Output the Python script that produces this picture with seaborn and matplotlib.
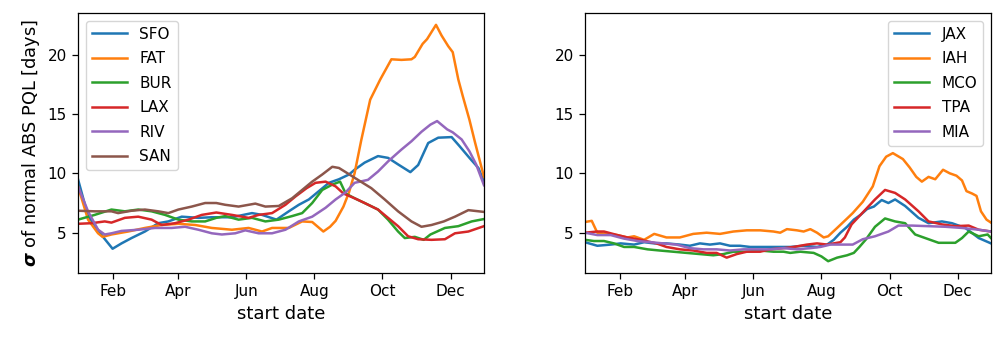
import numpy as np
import pandas as pd
import matplotlib
matplotlib.use("Agg")
import matplotlib.pyplot as plt
import matplotlib.dates as mdates
import seaborn as sns

# ---- data: day offset from 1 Jan, sigma of normal ABS PQL [days] ----
sfo_days = [0, 9, 22, 31, 39, 48, 60, 72, 81, 93, 108, 120, 138, 156, 165, 178, 189, 198, 207, 216,
            225, 234, 243, 248, 257, 269, 278, 287, 298, 305, 314, 323, 335, 342, 351, 359, 364]
sfo_vals = [9.5, 6.4, 4.7, 3.65, 4.1, 4.55, 5.1, 5.8, 5.95, 6.35, 6.25, 6.3, 6.3, 6.65, 6.5, 6.1, 6.8, 7.35, 7.8, 8.5,
            9.2, 9.5, 9.9, 10.3, 10.9, 11.45, 11.3, 10.75, 10.1, 10.7, 12.55, 13.0, 13.05, 12.3, 11.3, 10.45, 9.3]

fat_days = [0, 9, 18, 22, 30, 45, 60, 75, 90, 105, 120, 138, 153, 165, 174, 189, 201, 210, 215, 220, 226,
            231, 238, 243, 248, 254, 262, 271, 281, 290, 299, 302, 309, 313, 321, 326, 332, 336, 341, 345,
            351, 356, 364]
fat_vals = [8.9, 6.1, 4.95, 4.65, 4.85, 5.1, 5.4, 5.65, 5.75, 5.65, 5.4, 5.25, 5.4, 5.1, 5.4, 5.4, 5.95, 5.9, 5.5, 5.1, 5.5,
            6.0, 7.2, 8.4, 10.0, 12.8, 16.2, 17.9, 19.6, 19.55, 19.6, 19.8, 20.9, 21.3, 22.5, 21.6, 20.7, 20.2, 17.9, 16.5,
            14.5, 12.6, 9.7]

bur_days = [0, 15, 30, 42, 54, 66, 78, 90, 102, 114, 124, 132, 144, 156, 168, 180, 192, 201, 210, 219,
            228, 235, 240, 248, 257, 269, 278, 287, 293, 302, 310, 316, 329, 341, 353, 364]
bur_vals = [6.1, 6.5, 6.95, 6.8, 6.95, 6.8, 6.5, 6.1, 5.95, 5.95, 6.25, 6.4, 6.1, 6.25, 5.95, 6.1, 6.4, 6.65, 7.5, 8.6,
            9.05, 9.3, 8.3, 7.9, 7.5, 6.95, 6.1, 5.1, 4.55, 4.65, 4.4, 4.85, 5.4, 5.55, 5.95, 6.15]

lax_days = [0, 12, 24, 30, 42, 54, 66, 75, 87, 99, 111, 124, 138, 153, 162, 174, 186, 195, 205, 213,
            222, 231, 238, 248, 257, 269, 278, 287, 296, 305, 317, 329, 338, 350, 364]
lax_vals = [5.75, 5.8, 5.95, 5.85, 6.25, 6.35, 6.1, 5.65, 5.8, 6.1, 6.5, 6.7, 6.5, 6.25, 6.5, 6.65, 7.35, 8.05, 8.75, 9.2,
            9.3, 8.9, 8.3, 7.9, 7.5, 6.95, 6.25, 5.55, 4.7, 4.45, 4.4, 4.45, 4.95, 5.1, 5.55]

riv_days = [0, 9, 18, 24, 30, 39, 54, 69, 84, 96, 108, 120, 129, 141, 150, 162, 174, 186, 198, 210,
            222, 231, 240, 248, 260, 269, 278, 290, 299, 308, 316, 322, 331, 336, 344, 351, 357, 364]
riv_vals = [8.9, 6.8, 5.25, 4.85, 4.95, 5.15, 5.25, 5.4, 5.4, 5.5, 5.25, 4.95, 4.85, 4.95, 5.2, 4.95, 4.95, 5.25, 5.95, 6.35,
            7.1, 7.8, 8.4, 9.2, 9.45, 10.15, 11.0, 12.0, 12.7, 13.5, 14.1, 14.4, 13.7, 13.45, 12.85, 11.85, 10.75, 9.0]

san_days = [0, 15, 30, 36, 48, 60, 72, 81, 90, 102, 114, 124, 132, 144, 159, 168, 180, 192, 201, 210,
            219, 228, 234, 240, 251, 263, 275, 287, 299, 308, 317, 328, 338, 350, 364]
san_vals = [6.85, 6.8, 6.8, 6.65, 6.85, 6.95, 6.8, 6.65, 6.95, 7.2, 7.5, 7.5, 7.35, 7.2, 7.45, 7.2, 7.25, 7.9, 8.6, 9.3,
            9.9, 10.55, 10.45, 10.1, 9.45, 8.75, 7.8, 6.8, 5.95, 5.5, 5.65, 5.95, 6.35, 6.9, 6.75]

jax_days = [0, 11, 23, 32, 44, 53, 62, 73, 85, 94, 103, 112, 121, 130, 139, 148, 160, 172, 184, 196,
            208, 217, 223, 229, 235, 241, 247, 253, 259, 266, 272, 278, 287, 299, 308, 320, 329, 341, 353, 364]
jax_vals = [4.2, 3.9, 4.0, 4.1, 4.0, 4.2, 4.1, 4.1, 4.0, 3.9, 4.1, 4.0, 4.1, 3.9, 3.9, 3.8, 3.8, 3.8, 3.8, 3.9,
            3.8, 4.0, 4.4, 5.0, 5.5, 6.1, 6.5, 7.0, 7.2, 7.75, 7.5, 7.8, 7.25, 6.25, 5.8, 5.95, 5.8, 5.4, 4.55, 4.1]

iah_days = [0, 6, 11, 20, 29, 38, 44, 53, 62, 73, 85, 97, 109, 121, 133, 145, 157, 169, 175, 181,
            190, 196, 202, 208, 214, 218, 226, 235, 240, 249, 258, 264, 270, 276, 285, 291, 297, 302, 308,
            314, 321, 327, 333, 338, 342, 347, 351, 355, 360, 364]
iah_vals = [5.9, 6.0, 5.0, 4.9, 4.8, 4.6, 4.7, 4.4, 4.9, 4.6, 4.6, 4.9, 5.0, 4.9, 5.1, 5.2, 5.2, 5.1, 5.0, 5.3,
            5.2, 5.1, 5.3, 5.0, 4.6, 4.7, 5.4, 6.2, 6.65, 7.6, 8.9, 10.6, 11.4, 11.7, 11.2, 10.5, 9.7, 9.3, 9.7,
            9.5, 10.3, 10.0, 9.8, 9.4, 8.5, 8.3, 8.1, 6.8, 6.1, 5.85]

mco_days = [0, 8, 17, 26, 35, 44, 56, 67, 79, 91, 103, 115, 124, 133, 145, 157, 169, 178, 184, 193,
            205, 212, 218, 226, 235, 241, 246, 252, 260, 269, 278, 287, 296, 305, 317, 332, 338, 344,
            353, 361, 364]
mco_vals = [4.4, 4.3, 4.3, 4.1, 3.8, 3.8, 3.6, 3.5, 3.4, 3.3, 3.2, 3.1, 3.2, 3.4, 3.4, 3.5, 3.4, 3.4, 3.3, 3.4,
            3.3, 3.0, 2.6, 2.9, 3.1, 3.3, 3.8, 4.45, 5.5, 6.2, 5.95, 5.8, 4.85, 4.55, 4.15, 4.15, 4.55, 5.1,
            4.7, 4.85, 4.55]

tpa_days = [0, 11, 17, 29, 38, 50, 64, 73, 85, 97, 109, 118, 127, 136, 145, 157, 166, 178, 187, 199,
            208, 217, 223, 229, 233, 239, 245, 251, 260, 269, 278, 287, 299, 308, 320, 332, 344, 353, 364]
tpa_vals = [5.0, 5.1, 5.1, 4.8, 4.6, 4.4, 4.1, 3.8, 3.6, 3.5, 3.3, 3.3, 2.9, 3.2, 3.4, 3.4, 3.6, 3.7, 3.8, 4.0,
            4.1, 4.0, 4.1, 4.2, 4.6, 5.7, 6.3, 6.9, 7.8, 8.6, 8.35, 7.8, 6.8, 5.95, 5.7, 5.55, 5.6, 5.25, 5.1]

mia_days = [0, 11, 23, 35, 47, 59, 70, 82, 94, 106, 118, 130, 142, 154, 166, 178, 190, 202, 211, 220,
            229, 240, 249, 260, 272, 281, 293, 308, 323, 338, 353, 364]
mia_vals = [5.0, 4.8, 4.8, 4.5, 4.3, 4.2, 4.1, 4.0, 3.7, 3.6, 3.6, 3.5, 3.6, 3.6, 3.6, 3.7, 3.6, 3.7, 3.8, 4.0,
            4.0, 4.0, 4.45, 4.7, 5.1, 5.6, 5.6, 5.55, 5.5, 5.4, 5.25, 5.1]

west_names = ["SFO", "FAT", "BUR", "LAX", "RIV", "SAN"]
west_series = [(sfo_days, sfo_vals), (fat_days, fat_vals), (bur_days, bur_vals),
               (lax_days, lax_vals), (riv_days, riv_vals), (san_days, san_vals)]
east_names = ["JAX", "IAH", "MCO", "TPA", "MIA"]
east_series = [(jax_days, jax_vals), (iah_days, iah_vals), (mco_days, mco_vals),
               (tpa_days, tpa_vals), (mia_days, mia_vals)]

year_start = pd.Timestamp("2019-01-01")


def long_frame(names, series):
    parts = []
    for name, (days, vals) in zip(names, series):
        parts.append(pd.DataFrame({
            "start date": year_start + pd.to_timedelta(np.asarray(days), unit="D"),
            "sigma": vals,
            "airport": name,
        }))
    return pd.concat(parts, ignore_index=True)


west = long_frame(west_names, west_series)
east = long_frame(east_names, east_series)

palette = sns.color_palette("tab10")

plt.rcParams["font.family"] = ["DejaVu Sans"]
plt.rcParams["mathtext.fontset"] = "dejavusans"

fig, axes = plt.subplots(1, 2, figsize=(10, 3.43), dpi=100, sharey=True)
fig.subplots_adjust(left=0.078, right=0.991, bottom=0.204, top=0.962, wspace=0.249)

ylabel = r"$\boldsymbol{\sigma}$ of normal ABS PQL [days]"

for ax, df, names, loc in [(axes[0], west, west_names, "upper left"),
                           (axes[1], east, east_names, "upper right")]:
    sns.lineplot(data=df, x="start date", y="sigma", hue="airport", hue_order=names,
                 palette=palette[:len(names)], estimator=None, linewidth=1.8, ax=ax)
    ax.margins(x=0)
    ax.xaxis.set_major_locator(mdates.MonthLocator(bymonth=[2, 4, 6, 8, 10, 12]))
    ax.xaxis.set_major_formatter(mdates.DateFormatter("%b"))
    ax.set_xlabel("start date", fontsize=13)
    ax.set_ylabel(ylabel, fontsize=12.8)
    ax.yaxis.set_tick_params(labelleft=True)
    ax.tick_params(axis="both", labelsize=11, length=4.5, width=0.9)
    for sp in ax.spines.values():
        sp.set_linewidth(0.9)
    handles, labels = ax.get_legend_handles_labels()
    ax.legend(handles, labels, loc=loc, fontsize=11, handlelength=2.3, labelspacing=0.62)

fig.savefig("out.png", dpi=100)
